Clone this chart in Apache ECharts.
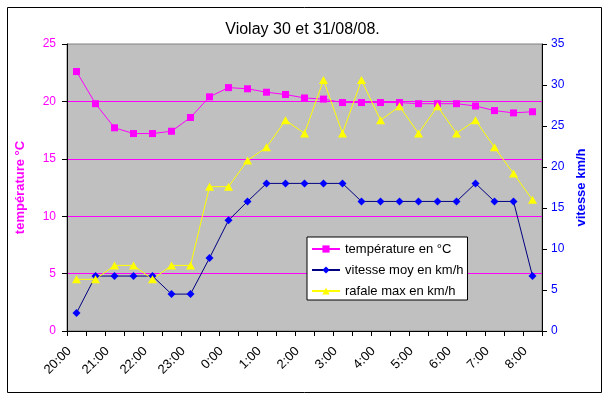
<!DOCTYPE html>
<html><head><meta charset="utf-8">
<script src="https://cdn.jsdelivr.net/npm/echarts@6/dist/echarts.min.js"></script>
<style>html,body{margin:0;padding:0;background:#fff}#c{width:605px;height:395px}</style>
</head><body><div id="c"></div>
<script>
const categories = ['20:00','20:30','21:00','21:30','22:00','22:30','23:00','23:30','0:00','0:30','1:00','1:30','2:00','2:30','3:00','3:30','4:00','4:30','5:00','5:30','6:00','6:30','7:00','7:30','8:00'];
const temperature = [22.6,19.8,17.7,17.2,17.2,17.4,18.6,20.4,21.2,21.1,20.8,20.6,20.3,20.2,19.9,19.9,19.9,19.9,19.8,19.8,19.8,19.6,19.2,19.0,19.1];
const vitesseMoy = [2.2,6.7,6.7,6.7,6.7,4.5,4.5,8.9,13.5,15.8,18.0,18.0,18.0,18.0,18.0,15.8,15.8,15.8,15.8,15.8,15.8,18.0,15.8,15.8,6.7];
const rafaleMax = [6.3,6.3,8.0,8.0,6.3,8.0,8.0,17.6,17.6,20.8,22.4,25.7,24.1,30.6,24.1,30.6,25.7,27.4,24.1,27.4,24.1,25.7,22.4,19.2,16.0];
const leftTicks = {min:0,max:25,interval:5};
const rightTicks = {min:0,max:35,interval:5};

const FONT = "'Liberation Sans', Arial, sans-serif";
const chart = echarts.init(document.getElementById('c'));
chart.setOption({
  animation:false,
  backgroundColor:'#fff',
  textStyle:{fontFamily:FONT},
  title:{text:'Violay 30 et 31/08/08.',left:'center',top:17,textStyle:{fontSize:16,fontWeight:'normal',color:'#000',fontFamily:FONT}},
  graphic:[{type:'rect',left:5,top:5,shape:{width:594,height:385},style:{fill:'none',stroke:'#000',lineWidth:1},silent:true,z:-1}],
  grid:{left:67,right:63,top:44,bottom:64,show:true,backgroundColor:'#C0C0C0',borderColor:'#808080',borderWidth:1},
  legend:{orient:'vertical',left:307,top:237,backgroundColor:'#fff',borderColor:'#000',borderWidth:1,borderRadius:0,
    padding:[5,4,2,4],itemGap:7,itemWidth:28,itemHeight:9,
    textStyle:{fontSize:13,lineHeight:14,color:'#000',fontFamily:FONT},
    data:['température en °C','vitesse moy en km/h','rafale max en km/h']},
  xAxis:{type:'category',data:categories,boundaryGap:true,
    axisLine:{lineStyle:{color:'#000',width:1}},
    axisTick:{show:true,interval:0,length:5,lineStyle:{color:'#000'}},
    axisLabel:{interval:1,rotate:45,color:'#000',fontSize:13,fontFamily:FONT,margin:11,padding:[0,10,0,0]},
    splitLine:{show:false}},
  yAxis:[
    {type:'value',min:leftTicks.min,max:leftTicks.max,interval:leftTicks.interval,position:'left',
     name:'température °C',nameLocation:'middle',nameRotate:90,nameGap:40,
     nameTextStyle:{color:'#FF00FF',fontWeight:'bold',fontSize:13,fontFamily:FONT},
     axisLine:{show:true,lineStyle:{color:'#000'}},
     axisTick:{show:true,length:5,lineStyle:{color:'#000'}},
     axisLabel:{color:'#FF00FF',fontSize:12,fontFamily:FONT,margin:11},
     splitLine:{show:true,showMaxLine:false,showMinLine:false,lineStyle:{color:'#FF00FF',width:1}}},
    {type:'value',min:rightTicks.min,max:rightTicks.max,interval:rightTicks.interval,position:'right',
     name:'vitesse km/h',nameLocation:'middle',nameRotate:90,nameGap:30,
     nameTextStyle:{color:'#0000FF',fontWeight:'bold',fontSize:13,fontFamily:FONT},
     axisLine:{show:true,lineStyle:{color:'#000'}},
     axisTick:{show:true,length:5,lineStyle:{color:'#000'}},
     axisLabel:{color:'#0000FF',fontSize:12,fontFamily:FONT,margin:9},
     splitLine:{show:false}}
  ],
  series:[
    {name:'température en °C',type:'line',yAxisIndex:0,data:temperature,symbol:'rect',symbolSize:7,
     lineStyle:{color:'#FF00FF',width:1},itemStyle:{color:'#FF00FF'}},
    {name:'vitesse moy en km/h',type:'line',yAxisIndex:1,data:vitesseMoy,symbol:'diamond',symbolSize:8,
     lineStyle:{color:'#000080',width:1},itemStyle:{color:'#0000FF'}},
    {name:'rafale max en km/h',type:'line',yAxisIndex:1,data:rafaleMax,symbol:'triangle',symbolSize:[9,8],
     lineStyle:{color:'#FFFF00',width:1},itemStyle:{color:'#FFFF00'}}
  ]
});
</script></body></html>
